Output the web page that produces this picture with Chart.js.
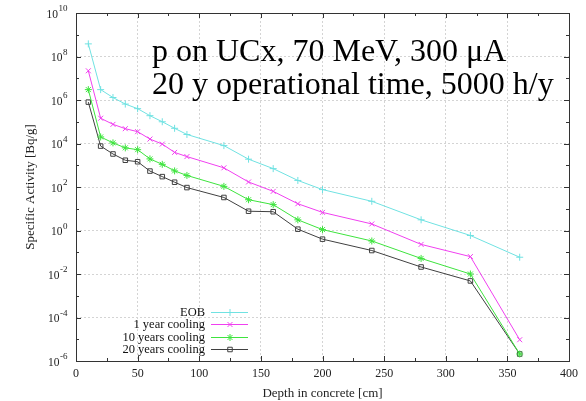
<!DOCTYPE html>
<html><head><meta charset="utf-8">
<script src="https://cdn.jsdelivr.net/npm/chart.js@4/dist/chart.umd.min.js"></script>
<style>html,body{margin:0;padding:0;background:#fff}#wrap{width:586px;height:401px;position:relative}</style>
</head><body><div id="wrap"><canvas id="c" width="586" height="401"></canvas></div>
<script>
const depthCm = [10,20,30,40,50,60,70,80,90,120,140,160,180,200,240,280,320,360];
const eob      = [3.8e8,3e6,1.3e6,6.5e5,4e5,1.9e5,1e5,5e4,2.6e4,8e3,1.9e3,7e2,2e2,76,22,3.1,0.59,0.059];
const year1    = [2.2e7,1.45e5,7.6e4,4.8e4,3.5e4,1.6e4,9.4e3,3.9e3,2.5e3,7.6e2,1.7e2,63,17,6.8,2.0,0.23,0.063,9.5e-6];
const years10  = [3e6,2e4,1.07e4,6.3e3,5.2e3,1.96e3,1.1e3,5.5e2,3.4e2,1.07e2,26,15.5,3.1,1.1,0.33,0.052,0.01,2.1e-6];
const years20  = [8e5,7.6e3,3.3e3,1.7e3,1.45e3,5.4e2,3e2,1.66e2,94,33,7.7,7.3,1.15,0.4,0.12,0.021,0.0048,2.1e-6];
const seriesNames = ['EOB','1 year cooling','10 years cooling','20 years cooling'];
const yExponents = [-6,-5,-4,-3,-2,-1,0,1,2,3,4,5,6,7,8,9,10];
const yLabelExponents = [-6,-4,-2,0,2,4,6,8,10];
const xTicks = [0,50,100,150,200,250,300,350,400];
const annotationLines = ['p on UCx, 70 MeV, 300 \u03bcA','20 y operational time, 5000 h/y'];
const xTitle = 'Depth in concrete [cm]';
const yTitle = 'Specific Activity [Bq/g]';

const colors = ['#70e2e2','#f040f0','#3ee43e','#404040'];
const styles = ['cross','crossRot','star','rect'];
const SERIF = "'Liberation Serif','DejaVu Serif',serif";

const mk = (arr)=>depthCm.map((x,i)=>({x:x,y:arr[i]}));
const datasets = [eob,year1,years10,years20].map((arr,i)=>({
  label: seriesNames[i], data: mk(arr), borderColor: colors[i], backgroundColor:'rgba(0,0,0,0)',
  borderWidth: 1, pointStyle: styles[i], pointRadius: i===3?3.2:3.5, pointBorderWidth:1,
  pointBorderColor: colors[i], pointBackgroundColor:'rgba(0,0,0,0)', tension:0
}));

const framePlugin = {
  id:'frame',
  afterDatasetsDraw(chart){
    const {ctx, chartArea:a, scales:{x,y}} = chart;
    ctx.save();
    ctx.strokeStyle='#333'; ctx.lineWidth=1;
    ctx.strokeRect(Math.round(a.left)+0.5, Math.round(a.top)+0.5, Math.round(a.right-a.left), Math.round(a.bottom-a.top));
    ctx.beginPath();
    for(let v=0; v<=400; v+=25){
      const px = Math.round(x.getPixelForValue(v))+0.5;
      const len = (v%50===0)?5:3;
      ctx.moveTo(px,a.bottom); ctx.lineTo(px,a.bottom-len);
      ctx.moveTo(px,a.top); ctx.lineTo(px,a.top+len);
    }
    yExponents.forEach(e=>{
      const py = Math.round(y.getPixelForValue(Math.pow(10,e)))+0.5;
      const len = (e%2===0)?5:3;
      ctx.moveTo(a.left,py); ctx.lineTo(a.left+len,py);
      ctx.moveTo(a.right,py); ctx.lineTo(a.right-len,py);
    });
    ctx.stroke();
    // y tick labels with superscript exponents
    ctx.fillStyle='#222'; ctx.textBaseline='alphabetic'; ctx.textAlign='left';
    yLabelExponents.forEach(e=>{
      const py = y.getPixelForValue(Math.pow(10,e));
      const ex = String(e).replace('-','\u2212').replace('\u2212','-');
      ctx.font = "9px "+SERIF;
      const ew = ctx.measureText(ex).width;
      ctx.font = "11.5px "+SERIF;
      const bw = ctx.measureText('10').width;
      const right = a.left - 9;
      const bx = right - ew - bw;
      ctx.fillText('10', bx, py+4.5);
      ctx.font = "9px "+SERIF;
      ctx.fillText(ex, bx+bw+0.5, py-2);
    });
    // annotation
    ctx.fillStyle='#000';
    ctx.font = "32px "+SERIF;
    ctx.textBaseline='alphabetic'; ctx.textAlign='left';
    ctx.fillText(annotationLines[0], 152, 61);
    ctx.fillText(annotationLines[1], 152, 94);
    // legend
    ctx.font = "12.5px "+SERIF;
    ctx.textAlign='right'; ctx.textBaseline='middle';
    const rows=[311.7,324.3,336.7,349.3];
    chart.data.datasets.forEach((ds,i)=>{
      const yy=Math.round(rows[i])+0.5;
      ctx.fillStyle='#111';
      ctx.fillText(ds.label, 205, yy);
      ctx.strokeStyle=ds.borderColor; ctx.lineWidth=1;
      ctx.beginPath(); ctx.moveTo(211,yy); ctx.lineTo(248,yy); ctx.stroke();
      ctx.fillStyle='rgba(0,0,0,0)';
      Chart.helpers.drawPoint(ctx,{pointStyle:ds.pointStyle,radius:ds.pointRadius,borderWidth:1},230,yy);
    });
    ctx.restore();
  }
};

new Chart(document.getElementById('c'),{
  type:'line',
  data:{datasets},
  options:{
    responsive:false, animation:false,
    layout:{padding:{left:23,right:17,top:13,bottom:0}},
    plugins:{legend:{display:false},tooltip:{enabled:false}},
    scales:{
      x:{type:'linear',min:0,max:400,
        afterBuildTicks(s){s.ticks = xTicks.map(v=>({value:v}));},
        afterFit(s){s.height=40;},
        ticks:{font:{family:SERIF,size:12},color:'#222',padding:6,maxRotation:0,autoSkip:false},
        grid:{drawTicks:false,color:(c)=>(c.tick&&c.tick.value>0&&c.tick.value<400)?'#d4d4d4':'rgba(0,0,0,0)',lineWidth:1},
        border:{display:false,dash:[2,2]},
        title:{display:true,text:xTitle,font:{family:SERIF,size:13},color:'#222',padding:{top:1,bottom:0}}
      },
      y:{type:'logarithmic',min:1e-6,max:1e10,
        afterBuildTicks(s){s.ticks = yExponents.map(e=>({value:Math.pow(10,e)}));},
        afterFit(s){s.width=53;},
        ticks:{display:false},
        grid:{drawTicks:false,color:(c)=>{if(!c.tick)return 'rgba(0,0,0,0)';const e=Math.round(Math.log10(c.tick.value));return (e%2===0&&e>-6&&e<10)?'#d4d4d4':'rgba(0,0,0,0)';},lineWidth:1},
        border:{display:false,dash:[2,2]},
        title:{display:true,text:yTitle,font:{family:SERIF,size:13},color:'#222',padding:{top:0,bottom:0}}
      }
    }
  },
  plugins:[framePlugin]
});
</script></body></html>
